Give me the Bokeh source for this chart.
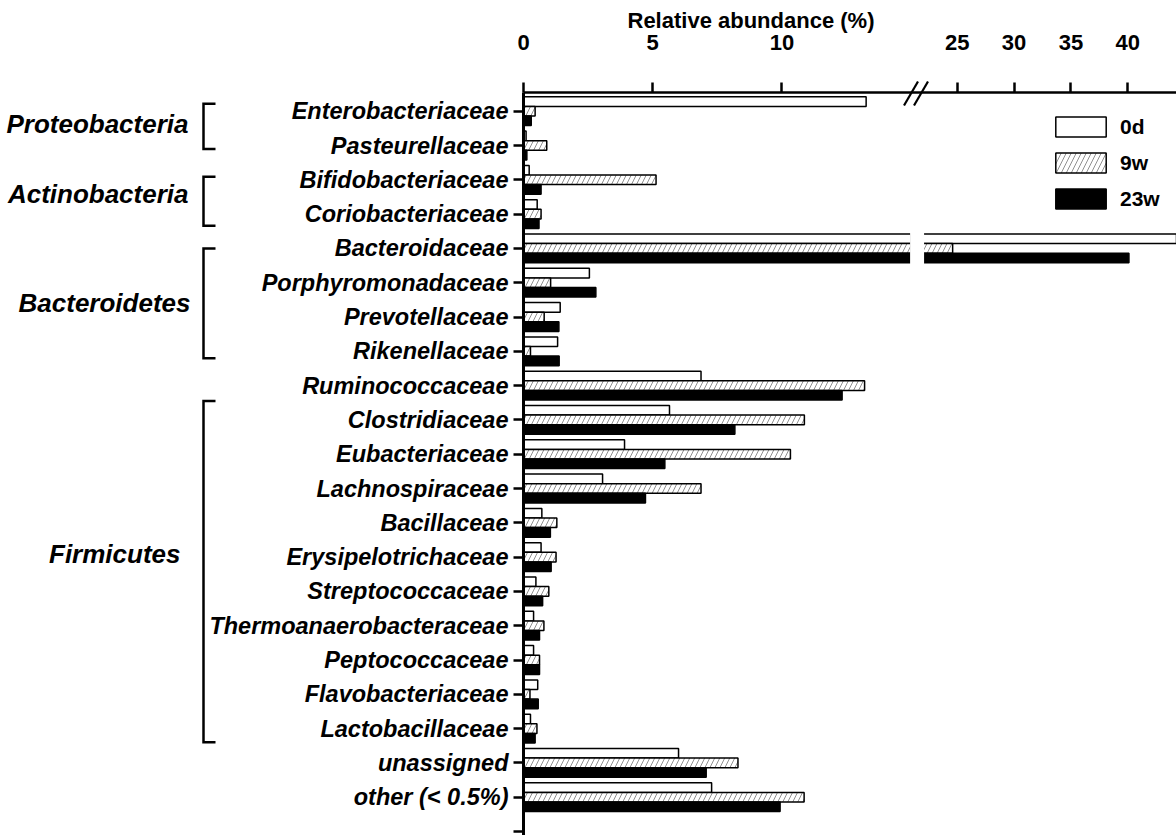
import numpy as np
from bokeh.plotting import figure
from bokeh.models import (Range1d, FixedTicker, Legend, LegendItem, ColumnDataSource,
                          Label, BoxAnnotation, Arrow)
from bokeh.embed import file_html
from bokeh.resources import INLINE

# ---- data: relative abundance (%) per family at three time points ----
families = [
    "Enterobacteriaceae", "Pasteurellaceae", "Bifidobacteriaceae", "Coriobacteriaceae",
    "Bacteroidaceae", "Porphyromonadaceae", "Prevotellaceae", "Rikenellaceae",
    "Ruminococcaceae", "Clostridiaceae", "Eubacteriaceae", "Lachnospiraceae",
    "Bacillaceae", "Erysipelotrichaceae", "Streptococcaceae", "Thermoanaerobacteraceae",
    "Peptococcaceae", "Flavobacteriaceae", "Lactobacillaceae", "unassigned", "other (< 0.5%)",
]
day0 = [13.26, 0.10, 0.22, 0.53, 45.5, 2.55, 1.42, 1.32, 6.87, 5.65, 3.91, 3.06,
        0.71, 0.68, 0.48, 0.39, 0.39, 0.55, 0.27, 6.00, 7.28]
week9 = [0.45, 0.90, 5.13, 0.68, 24.6, 1.05, 0.80, 0.27, 13.20, 10.87, 10.33, 6.87,
         1.29, 1.26, 0.98, 0.79, 0.62, 0.25, 0.52, 8.30, 10.86]
week23 = [0.30, 0.13, 0.68, 0.60, 40.1, 2.80, 1.37, 1.38, 12.33, 8.18, 5.47, 4.72,
          1.04, 1.07, 0.74, 0.62, 0.62, 0.57, 0.45, 7.07, 9.93]
series_names = ["0d", "9w", "23w"]

phyla = ["Proteobacteria", "Actinobacteria", "Bacteroidetes", "Firmicutes"]
phylum_top = [-0.22, 1.91, 4.0, 8.45]        # bracket extent, in row units
phylum_bottom = [1.10, 3.34, 7.2, 18.4]
phylum_label_row = [0.38, 2.4, 5.6, 12.9]
phylum_label_px = [188, 188, 190, 180]       # right edge of each phylum name

lower_ticks = [0, 5, 10]
upper_ticks = [25, 30, 35, 40]

# broken x axis: lower segment ends at 15 %, upper segment starts at 22 %
BREAK_LO, BREAK_HI = 15, 22

# ---- geometry (the plot frame fills the whole canvas) ----
W, H = 1176, 835
X0_PX = 523.0             # pixel column of 0 %
LO_PPU = 25.84            # pixels per % on the lower segment
UP_PPU = 11.373           # pixels per % on the upper segment
UP_REF_VALUE, UP_REF_PX = 25, 956.7
ROW0_PX = 110.7           # pixel row of the first family
ROW_PPU = 34.3            # pixels per family row
AXIS_PX = 92.0            # pixel row of the top axis line


def px_x(px):
    return (px - X0_PX) / LO_PPU


def px_y(py):
    return (py - ROW0_PX) / ROW_PPU


def up_to_lo(v):
    return px_x(UP_REF_PX + (v - UP_REF_VALUE) * UP_PPU)


lo_range = Range1d(px_x(0), px_x(W))
up_start = UP_REF_VALUE - UP_REF_PX / UP_PPU
up_range = Range1d(up_start, up_start + W / UP_PPU)
row_range = Range1d(px_y(H), px_y(0))

FONT = "Liberation Sans"

p = figure(width=W, height=H, x_range=lo_range, y_range=row_range,
           x_axis_location="above", output_backend="svg", toolbar_location=None,
           min_border=0)
p.extra_x_ranges = {"upper": up_range}
p.outline_line_color = None
p.background_fill_color = "white"
p.border_fill_color = "white"
p.xgrid.visible = False
p.ygrid.visible = False

axis_row = px_y(AXIS_PX)

# top axis carries both segments' ticks
tick_pos = lower_ticks + [round(up_to_lo(v), 4) for v in upper_ticks]
xa = p.xaxis[0]
xa.fixed_location = axis_row
xa.bounds = (0, px_x(W))
xa.ticker = FixedTicker(ticks=tick_pos, minor_ticks=[])
xa.major_label_overrides = {t: str(v) for t, v in zip(tick_pos, lower_ticks + upper_ticks)}
xa.axis_line_width = 2.5
xa.axis_line_color = "black"
xa.major_tick_line_width = 2.5
xa.major_tick_line_color = "black"
xa.major_tick_out = 10
xa.major_tick_in = 0
xa.major_label_standoff = 33
xa.major_label_text_font = FONT
xa.major_label_text_font_style = "bold"
xa.major_label_text_font_size = "22px"
xa.major_label_text_color = "black"

ya = p.yaxis[0]
ya.fixed_location = 0
ya.bounds = (axis_row, px_y(H))
ya.ticker = FixedTicker(ticks=list(range(len(families) + 1)), minor_ticks=[])
overrides = {i: name for i, name in enumerate(families)}
overrides[len(families)] = ""
ya.major_label_overrides = overrides
ya.axis_line_width = 3
ya.axis_line_color = "black"
ya.major_tick_line_width = 2.5
ya.major_tick_line_color = "black"
ya.major_tick_out = 10
ya.major_tick_in = 0
ya.major_label_standoff = 5
ya.major_label_text_font = FONT
ya.major_label_text_font_style = "bold italic"
ya.major_label_text_font_size = "23.5px"
ya.major_label_text_color = "black"

# ---- bars ----
BAR_H = 0.28
offsets = [-BAR_H, 0.0, BAR_H]
styles = [
    dict(fill_color="white"),
    dict(fill_color="white", hatch_pattern="/", hatch_color="#606060",
         hatch_scale=10, hatch_weight=0.7),
    dict(fill_color="black"),
]
rows = np.arange(len(families))
legend_items = []
for name, vals, off, st in zip(series_names, [day0, week9, week23], offsets, styles):
    v = np.asarray(vals, dtype=float)
    y = rows + off
    lo_src = ColumnDataSource(dict(y=y, right=np.minimum(v, BREAK_LO)))
    r = p.hbar(y="y", left=0, right="right", height=BAR_H, source=lo_src,
               line_color="black", line_width=1.5, **st)
    keep = v > BREAK_HI
    hi_src = ColumnDataSource(dict(y=y[keep], right=v[keep]))
    p.hbar(y="y", left=BREAK_HI, right="right", height=BAR_H, source=hi_src,
           x_range_name="upper", line_color="black", line_width=1.5, **st)
    legend_items.append(LegendItem(label=name, renderers=[r]))

# blank strip where the axis is broken
p.add_layout(BoxAnnotation(left=BREAK_LO - 1.0 / LO_PPU,
                           right=up_to_lo(BREAK_HI) + 1.0 / LO_PPU,
                           top=px_y(106), bottom=px_y(H),
                           fill_color="white", fill_alpha=1.0, line_color=None))

# break marks on the top axis
for cx in (910.5, 920.5):
    p.add_layout(Arrow(x_start=px_x(cx - 7), y_start=px_y(105),
                       x_end=px_x(cx + 7), y_end=px_y(81),
                       end=None, line_width=2.2, line_color="black"))

# phylum brackets and names
BRACKET_X, BRACKET_TIP = px_x(203), px_x(215)
bx = [[BRACKET_TIP, BRACKET_X, BRACKET_X, BRACKET_TIP] for _ in phyla]
by = [[t, t, b, b] for t, b in zip(phylum_top, phylum_bottom)]
p.multi_line(xs=bx, ys=by, line_color="black", line_width=2.5, line_join="miter")

for name, yrow, rx in zip(phyla, phylum_label_row, phylum_label_px):
    p.add_layout(Label(x=px_x(rx), y=yrow, text=name, text_align="right",
                       text_baseline="middle", text_font=FONT, text_color="black",
                       text_font_style="bold italic", text_font_size="26px"))

# axis title
p.add_layout(Label(x=px_x(627), y=px_y(20), text="Relative abundance (%)",
                   text_align="left", text_baseline="middle", text_font=FONT,
                   text_color="black", text_font_style="bold", text_font_size="22px"))

legend = Legend(items=legend_items, location=(1049, 624), glyph_width=63,
                glyph_height=25, spacing=11, padding=0, margin=0, label_standoff=8,
                label_text_font=FONT, label_text_font_style="bold",
                label_text_font_size="21px", label_text_color="black",
                border_line_color=None, background_fill_alpha=0)
p.add_layout(legend)

open("out.html", "w").write(file_html(p, INLINE))
